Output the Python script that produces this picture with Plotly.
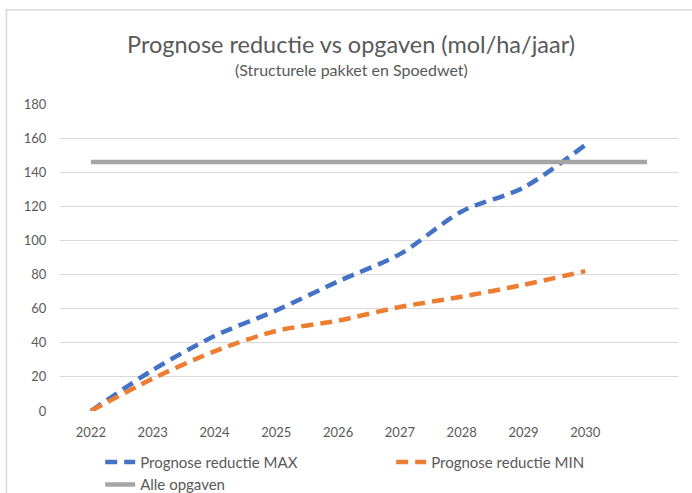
import plotly.graph_objects as go

years = [2022, 2023, 2024, 2025, 2026, 2027, 2028, 2029, 2030, 2031]
year_labels = ["2022", "2023", "2024", "2025", "2026", "2027", "2028", "2029", "2030"]
reductie_max = [0, 24, 44, 59, 76, 92, 117, 131, 156]
reductie_min = [0, 19, 35, 47, 53, 61, 67, 74, 82]
alle_opgaven = [146, 146, 146, 146, 146, 146, 146, 146, 146, 146]
y_ticks = [0, 20, 40, 60, 80, 100, 120, 140, 160, 180]

FONT = "Lato"
TXT = "#595959"

fig = go.Figure()
fig.add_trace(go.Scatter(
    x=years[:len(reductie_max)], y=reductie_max, mode="lines",
    name="Prognose reductie MAX",
    line=dict(color="#4472C4", width=4.5, dash="12px,7px", shape="spline", smoothing=0.8),
))
fig.add_trace(go.Scatter(
    x=years[:len(reductie_min)], y=reductie_min, mode="lines",
    name="Prognose reductie MIN",
    line=dict(color="#ED7D31", width=4.5, dash="12px,7px", shape="spline", smoothing=0.8),
))
fig.add_trace(go.Scatter(
    x=years, y=alle_opgaven, mode="lines",
    name="Alle opgaven",
    line=dict(color="#A5A5A5", width=4.5),
))

fig.update_layout(
    width=692, height=493,
    margin=dict(l=60, r=14, t=104, b=82, autoexpand=False),
    paper_bgcolor="white", plot_bgcolor="white",
    font=dict(family=FONT, color=TXT, size=13),
    showlegend=True,
    legend=dict(
        orientation="h", x=0.065, xanchor="left", y=-0.113, yanchor="top",
        entrywidth=246, entrywidthmode="pixels",
        font=dict(family=FONT, size=15, color=TXT),
        bgcolor="rgba(0,0,0,0)",
    ),
    xaxis=dict(
        range=[years[0] - 0.5, years[-1] + 0.5],
        tickmode="array", tickvals=years[:len(year_labels)], ticktext=year_labels,
        showgrid=False, zeroline=False, showline=False,
        ticks="outside", ticklen=9, tickcolor="rgba(0,0,0,0)",
        tickfont=dict(family=FONT, size=13, color=TXT),
        fixedrange=True,
    ),
    yaxis=dict(
        range=[0, 180], tickmode="array", tickvals=y_ticks,
        showgrid=True, gridcolor="#D9D9D9", gridwidth=1,
        zeroline=False, showline=False,
        ticks="outside", ticklen=10, tickcolor="rgba(0,0,0,0)",
        tickfont=dict(family=FONT, size=13, color=TXT),
        fixedrange=True,
    ),
    annotations=[
        dict(text="Prognose reductie vs opgaven (mol/ha/jaar)", xref="paper", yref="paper",
             x=0.471, y=1.196, xanchor="center", yanchor="middle", showarrow=False,
             font=dict(family=FONT, size=23.5, color=TXT)),
        dict(text="(Structurele pakket en Spoedwet)", xref="paper", yref="paper",
             x=0.471, y=1.111, xanchor="center", yanchor="middle", showarrow=False,
             font=dict(family=FONT, size=16, color=TXT)),
    ],
    shapes=[
        dict(type="rect", xref="paper", yref="paper",
             x0=-0.0866, x1=1.2, y0=-0.5, y1=1.3067,
             line=dict(color="#D9D9D9", width=1.5), fillcolor="rgba(0,0,0,0)", layer="below"),
    ],
)

fig.write_html(
    "out.html",
    config={"displayModeBar": False},
    post_script="document.body.style.margin='0';document.body.style.padding='0';",
)
